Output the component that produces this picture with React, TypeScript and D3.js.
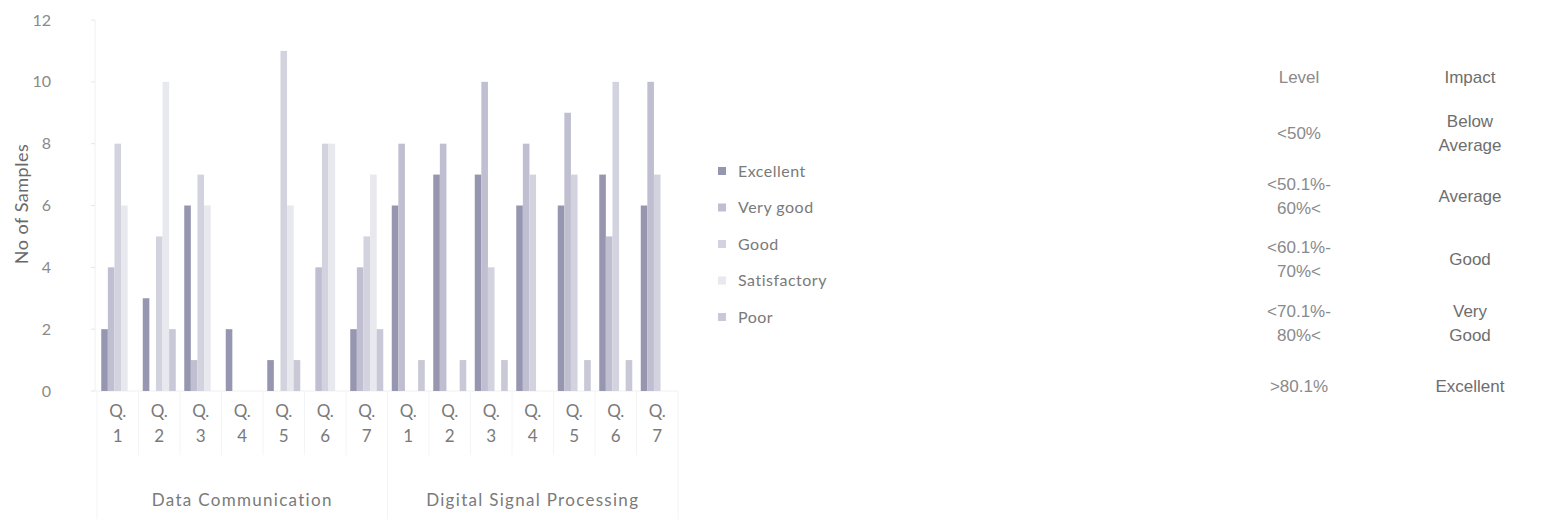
import React, { useRef, useEffect } from "react";
import * as d3 from "d3";

// categories
const subjects = ["Data Communication", "Digital Signal Processing"];
const questions = ["1", "2", "3", "4", "5", "6", "7"];
const seriesNames = ["Excellent", "Very good", "Good", "Satisfactory", "Poor"];

// series values: 7 questions of Data Communication, then 7 of DSP
const excellent = [2, 3, 6, 2, 1, 0, 2, 6, 7, 7, 6, 6, 7, 6];
const veryGood = [4, 0, 1, 0, 0, 4, 4, 8, 8, 10, 8, 9, 5, 10];
const good = [8, 5, 7, 0, 11, 8, 5, 0, 0, 4, 7, 7, 10, 7];
const satisfactory = [6, 10, 6, 0, 6, 8, 7, 0, 0, 0, 0, 0, 0, 0];
const poor = [0, 2, 0, 0, 1, 0, 2, 1, 1, 1, 0, 1, 1, 0];

const yTicks = [0, 2, 4, 6, 8, 10, 12];

// side table
const tableHeader = ["Level", "Impact"];
const levelRows = [["<50%"], ["<50.1%-", "60%<"], ["<60.1%-", "70%<"], ["<70.1%-", "80%<"], [">80.1%"]];
const impactRows = [["Below", "Average"], ["Average"], ["Good"], ["Very", "Good"], ["Excellent"]];

const colors = ["#9696b0", "#bfbfd1", "#d3d3e0", "#e8e8ef", "#c8c8d6"];

const W = 1542;
const H = 519;

const App = () => {
  const svgRef = useRef<SVGSVGElement>(null);

  useEffect(() => {
    const svg = d3.select(svgRef.current);
    svg.selectAll("*").remove();

    const font = "Lato, 'Open Sans', sans-serif";
    const series = [excellent, veryGood, good, satisfactory, poor];
    const cats = subjects.flatMap((s) => questions.map((q) => `${s}|${q}`));

    const x = d3.scaleBand().domain(cats).range([97, 678]).padding(0);
    const clusterW = 33;
    const x1 = d3
      .scaleBand()
      .domain(seriesNames)
      .range([(x.bandwidth() - clusterW) / 2, (x.bandwidth() + clusterW) / 2]);
    const y = d3.scaleLinear().domain([0, 12]).range([391, 20]);

    // axes (very faint, as in the scan)
    svg
      .append("line")
      .attr("x1", 95)
      .attr("x2", 95)
      .attr("y1", y(12))
      .attr("y2", y(0))
      .attr("stroke", "#f0f0f0");
    svg
      .selectAll(".ytick")
      .data(yTicks)
      .enter()
      .append("line")
      .attr("x1", 91)
      .attr("x2", 95)
      .attr("y1", (d) => y(d))
      .attr("y2", (d) => y(d))
      .attr("stroke", "#e6e6e6");
    svg
      .append("line")
      .attr("x1", 95)
      .attr("x2", 678)
      .attr("y1", y(0))
      .attr("y2", y(0))
      .attr("stroke", "#f0f0f0");

    // category separators
    const seps = d3.range(cats.length + 1).map((i) => 97 + i * x.step());
    svg
      .selectAll(".sep")
      .data(seps)
      .enter()
      .append("line")
      .attr("x1", (d) => d)
      .attr("x2", (d) => d)
      .attr("y1", y(0))
      .attr("y2", (d, i) => (i % 7 === 0 ? 519 : 455))
      .attr("stroke", "#f4f4f4");

    // y tick labels
    svg
      .selectAll(".ylab")
      .data(yTicks)
      .enter()
      .append("text")
      .attr("x", 51)
      .attr("y", (d) => y(d))
      .attr("dy", "0.35em")
      .attr("text-anchor", "end")
      .attr("font-family", font)
      .attr("font-size", 16)
      .attr("fill", "#8a8a8a")
      .text((d) => d);

    svg
      .append("text")
      .attr("transform", `translate(22, ${204}) rotate(-90)`)
      .attr("text-anchor", "middle")
      .attr("dy", "0.35em")
      .attr("font-family", font)
      .attr("font-size", 18)
      .attr("letter-spacing", 0.5)
      .attr("fill", "#6a6a6a")
      .text("No of Samples");

    // bars
    series.forEach((vals, si) => {
      svg
        .selectAll(`.bar-${si}`)
        .data(vals.map((v, i) => ({ v, c: cats[i] })))
        .enter()
        .append("rect")
        .attr("x", (d) => (x(d.c) as number) + (x1(seriesNames[si]) as number))
        .attr("y", (d) => y(d.v))
        .attr("width", x1.bandwidth())
        .attr("height", (d) => y(0) - y(d.v))
        .attr("fill", colors[si]);
    });

    // x labels
    const xl = svg.append("g");
    cats.forEach((c) => {
      const cx = (x(c) as number) + x.bandwidth() / 2;
      const q = c.split("|")[1];
      xl.append("text")
        .attr("x", cx)
        .attr("y", 411)
        .attr("dy", "0.35em")
        .attr("text-anchor", "middle")
        .attr("font-family", font)
        .attr("font-size", 17)
        .attr("fill", "#7a7a7a")
        .text("Q.");
      xl.append("text")
        .attr("x", cx)
        .attr("y", 436)
        .attr("dy", "0.35em")
        .attr("text-anchor", "middle")
        .attr("font-family", font)
        .attr("font-size", 17)
        .attr("fill", "#7a7a7a")
        .text(q);
    });
    subjects.forEach((s) => {
      const first = x(`${s}|${questions[0]}`) as number;
      const last = (x(`${s}|${questions[questions.length - 1]}`) as number) + x.bandwidth();
      xl.append("text")
        .attr("x", (first + last) / 2)
        .attr("y", 500)
        .attr("dy", "0.35em")
        .attr("text-anchor", "middle")
        .attr("font-family", font)
        .attr("font-size", 17)
        .attr("letter-spacing", 1.3)
        .attr("fill", "#7a7a7a")
        .text(s);
    });

    // legend
    const legend = svg.append("g").attr("transform", "translate(718, 171)");
    seriesNames.forEach((n, i) => {
      const g = legend.append("g").attr("transform", `translate(0, ${i * 36.5})`);
      g.append("rect")
        .attr("x", 0)
        .attr("y", -4)
        .attr("width", 8)
        .attr("height", 8)
        .attr("fill", colors[i]);
      g.append("text")
        .attr("x", 20)
        .attr("y", 0)
        .attr("dy", "0.35em")
        .attr("font-family", font)
        .attr("font-size", 16)
        .attr("letter-spacing", 0.5)
        .attr("fill", "#7a7a7a")
        .text(n);
    });

    // table
    const tfont = "'Liberation Sans', Arial, sans-serif";
    const colX = [1299, 1470];
    const rowY = d3.scaleBand().domain(d3.range(levelRows.length).map(String)).range([101, 418]);
    const lh = 24;
    tableHeader.forEach((h, i) => {
      svg
        .append("text")
        .attr("x", colX[i])
        .attr("y", 77)
        .attr("dy", "0.35em")
        .attr("text-anchor", "middle")
        .attr("font-family", tfont)
        .attr("font-size", 17)
        .attr("fill", i === 0 ? "#8a8a8a" : "#6e6e6e")
        .text(h);
    });
    [levelRows, impactRows].forEach((rows, ci) => {
      rows.forEach((lines, ri) => {
        const cy = (rowY(String(ri)) as number) + rowY.bandwidth() / 2;
        lines.forEach((t, li) => {
          svg
            .append("text")
            .attr("x", colX[ci])
            .attr("y", cy + (li - (lines.length - 1) / 2) * lh)
            .attr("dy", "0.35em")
            .attr("text-anchor", "middle")
            .attr("font-family", tfont)
            .attr("font-size", 17)
            .attr("fill", ci === 0 ? "#8a8a8a" : "#6e6e6e")
            .text(t);
        });
      });
    });

    return () => {
      svg.selectAll("*").remove();
    };
  }, []);

  return (
    <svg
      ref={svgRef}
      width={W}
      height={H}
      style={{ position: "absolute", left: 0, top: 0, background: "#fff" }}
    ></svg>
  );
};

export default App;
